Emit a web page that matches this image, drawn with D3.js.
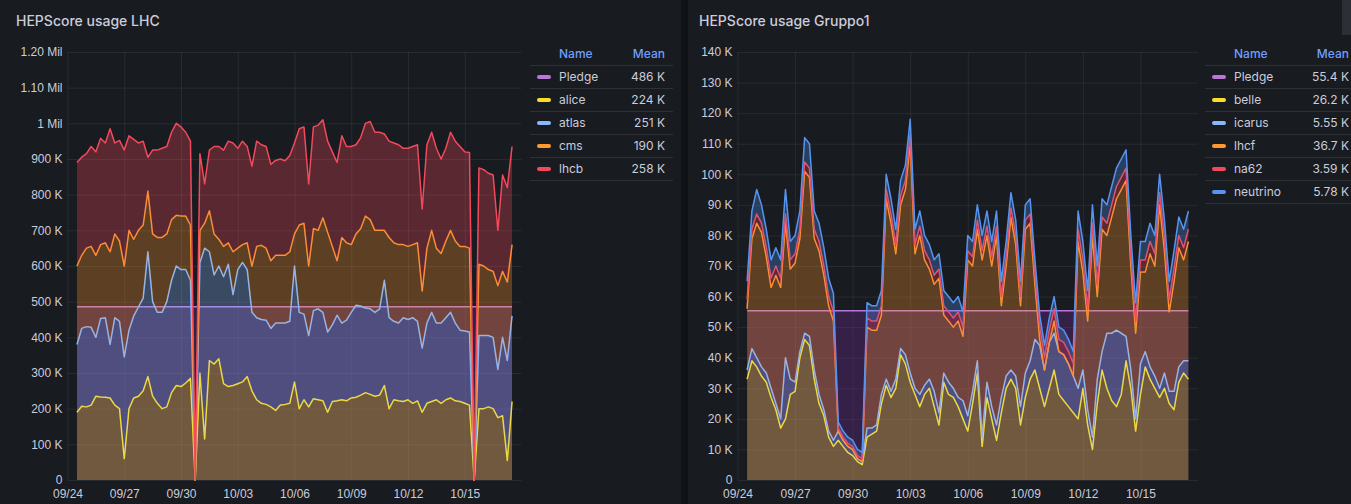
<!DOCTYPE html>
<html>
<head>
  <title>HEPScore usage</title>
  <style>
    body { margin: 0; background: #111217; }
    svg { display: block; font-family: Inter, "Noto Sans", sans-serif; }
    .axis text { fill: #ccccdc; font-size: 12px; }
    .axis line { stroke: rgba(204, 204, 220, 0.09); }
    .axis .domain { display: none; }
  </style>
</head>
<body>
  <script src="https://d3js.org/d3.v7.min.js"></script>
  <script>
// values are in K, one point every 6 hours starting 09/24 12:00
var firstPoint = new Date(2024, 8, 24, 12);
var stepHours = 6;

var xTickLabels = ["09/24", "09/27", "09/30", "10/03", "10/06", "10/09", "10/12", "10/15"];

// ---- LHC panel ----
var lhcYTicks = [0, 100, 200, 300, 400, 500, 600, 700, 800, 900, 1000, 1100, 1200];
var lhcYLabels = ["0", "100 K", "200 K", "300 K", "400 K", "500 K", "600 K", "700 K", "800 K", "900 K", "1 Mil", "1.10 Mil", "1.20 Mil"];
var lhcNames = ["Pledge", "alice", "atlas", "cms", "lhcb"];
var lhcMeans = ["486 K", "224 K", "251 K", "190 K", "258 K"];
var lhcPledge = 486;

var alice = [190,207,205,210,235,233,232,230,210,200,
  60,200,230,235,250,290,235,215,200,205,
  245,265,262,272,285,0,300,115,335,325,
  340,270,262,265,270,275,290,250,225,215,
  212,205,195,210,212,215,275,200,225,205,
  228,225,222,190,220,222,225,222,230,232,
  238,245,240,235,238,265,200,225,222,220,
  225,215,222,190,215,220,225,215,225,230,
  222,220,215,210,0,200,200,205,200,175,
  180,55,220];
var atlas = [190,218,225,218,165,220,223,150,245,245,
  285,220,230,250,260,350,265,255,270,295,
  315,335,328,318,275,0,310,535,305,250,
  260,300,343,255,320,335,300,220,230,235,
  236,220,245,230,228,230,325,270,240,200,
  247,255,248,225,215,240,215,226,240,258,
  250,237,240,235,242,295,255,220,218,235,
  225,240,223,180,225,250,215,225,230,240,
  218,200,203,205,0,205,205,200,200,135,
  220,280,240];
var cms = [220,205,220,227,230,207,210,260,235,225,
  255,280,215,215,205,170,190,210,210,190,
  170,142,150,150,155,0,90,70,115,115,
  75,85,60,120,60,50,75,130,200,208,
  202,190,190,190,190,195,90,245,255,195,
  230,220,265,280,220,153,240,217,190,200,
  217,258,250,230,220,140,225,220,220,205,
  205,205,220,160,210,230,210,195,215,230,
  230,235,237,235,0,200,195,185,185,235,
  185,220,200];
var lhcb = [290,275,265,280,290,298,280,345,255,282,
  325,265,280,245,235,95,235,245,250,245,
  245,258,250,235,235,0,215,110,170,245,
  260,270,285,305,280,290,270,280,295,282,
  285,270,266,270,265,270,255,270,270,230,
  285,295,275,255,265,275,285,270,275,250,
  255,260,275,275,275,270,270,280,280,270,
  275,275,275,230,290,275,280,265,260,275,
  280,280,265,268,0,270,270,270,270,155,
  270,265,275];

// ---- Gruppo1 panel ----
var grpYTicks = [0, 10, 20, 30, 40, 50, 60, 70, 80, 90, 100, 110, 120, 130, 140];
var grpYLabels = ["0", "10 K", "20 K", "30 K", "40 K", "50 K", "60 K", "70 K", "80 K", "90 K", "100 K", "110 K", "120 K", "130 K", "140 K"];
var grpNames = ["Pledge", "belle", "icarus", "lhcf", "na62", "neutrino"];
var grpMeans = ["55.4 K", "26.2 K", "5.55 K", "36.7 K", "3.59 K", "5.78 K"];
var grpPledge = 55.4;

var belle = [33,39,37,34,32,27,23,17,20,28,
  29,40,46,44,33,25,21,14,11,13,
  11,9,8,6,5,14,15,16,25,31,
  27,30,41,38,32,28,24,28,30,24,
  18,32,28,27,24,20,16,25,35,11,
  27,20,13,22,30,33,30,18,27,33,
  36,30,24,30,36,28,26,24,22,20,
  30,18,10,25,36,30,26,24,28,39,
  30,16,28,37,33,30,27,30,25,23,
  32,35,33];
var icarus = [3,4,3,3,3,3,2,3,20,5,
  3,2,2,3,3,3,2,2,2,3,
  2,2,2,1,1,3,2,2,3,2,
  2,3,2,3,3,2,4,3,3,5,
  4,3,4,3,3,6,5,4,4,3,
  5,4,5,5,4,3,4,6,8,6,
  10,14,12,15,12,14,15,14,12,10,
  6,5,4,8,6,18,22,25,20,8,
  6,4,10,5,4,4,3,5,4,6,
  5,4,6];
var lhcf = [20,36,44,44,38,33,42,43,44,36,
  39,37,53,52,43,47,44,41,39,0,
  0,0,0,0,0,33,32,31,26,59,
  55,41,47,54,75,44,52,41,36,35,
  44,19,20,20,25,21,51,41,43,58,
  48,46,62,30,36,50,43,33,47,45,
  18,2,0,0,4,0,0,0,0,48,
  32,29,66,27,40,32,38,43,47,51,
  34,28,30,26,37,36,60,40,26,36,
  39,33,39];
var na62 = [3,3,3,3,3,3,3,3,3,3,
  3,3,3,3,3,3,3,3,3,1,
  1,1,1,1,1,3,3,3,3,3,
  3,3,3,3,3,3,3,3,3,3,
  3,3,3,3,3,3,3,3,3,3,
  3,3,3,3,3,3,3,3,3,3,
  3,4,4,4,4,4,4,4,4,4,
  4,4,4,4,4,4,4,4,4,4,
  4,4,4,4,4,4,4,4,4,4,
  4,4,4];
var neutrino = [6,6,8,6,6,6,6,6,8,6,
  6,6,8,8,6,6,6,6,6,2,
  2,2,2,2,2,5,5,5,5,5,
  5,5,5,5,5,5,5,5,5,5,
  5,5,5,5,5,5,5,5,5,5,
  5,5,5,5,5,5,5,5,5,5,
  5,4,4,4,4,4,4,4,4,6,
  6,6,6,6,6,6,6,6,6,6,
  6,6,6,6,6,6,6,6,6,6,
  6,6,6];

var colors = {
  Pledge: "#B877D9", alice: "#FADE2A", atlas: "#8AB8FF", cms: "#FF9830", lhcb: "#F2495C",
  belle: "#FADE2A", icarus: "#8AB8FF", lhcf: "#FF9830", na62: "#F2495C", neutrino: "#5794F2"
};
var pledgeFill = "#8a2fc0";
var pledgeOpacity = 0.25;
var fillOpacity = 0.3;

var times = d3.range(alice.length).map(function(i) {
  return d3.timeHour.offset(firstPoint, i * stepHours);
});
var parseDay = d3.timeParse("%Y/%m/%d");
var xTickDates = xTickLabels.map(function(l) { return parseDay("2024/" + l); });

// Set up the SVG and the two panels
var svg = d3.select("body").append("svg")
  .attr("width", 1351)
  .attr("height", 504);

svg.append("rect").attr("width", 1351).attr("height", 504).attr("fill", "#111217");
svg.append("rect").attr("x", 0).attr("y", 0).attr("width", 681).attr("height", 504).attr("fill", "#181b1f");
svg.append("rect").attr("x", 688).attr("y", 0).attr("width", 663).attr("height", 504).attr("fill", "#181b1f");

function drawPanel(p) {
  var g = svg.append("g");

  var x = d3.scaleTime()
    .domain([new Date(2024, 8, 24), new Date(2024, 9, 18)])
    .range([p.left, p.right]);
  var y = d3.scaleLinear()
    .domain([0, p.yMax])
    .range([480, 52]);

  // title
  g.append("text")
    .attr("x", p.titleX)
    .attr("y", 26)
    .attr("fill", "#ccccdc")
    .attr("font-size", 14)
    .attr("font-weight", 500)
    .text(p.title);

  // grid + axis labels
  g.append("g")
    .attr("class", "axis")
    .attr("transform", "translate(" + p.left + ",0)")
    .call(d3.axisLeft(y)
      .tickValues(p.yTicks)
      .tickFormat(function(d, i) { return p.yLabels[i]; })
      .tickSize(-(p.right - p.left))
      .tickPadding(5));

  g.append("g")
    .attr("class", "axis")
    .attr("transform", "translate(0,480)")
    .call(d3.axisBottom(x)
      .tickValues(xTickDates)
      .tickFormat(function(d, i) { return xTickLabels[i]; })
      .tickSize(-428)
      .tickPadding(9));

  // pledge: own fill from 0, not stacked
  var pledgeArea = d3.area()
    .x(function(d) { return x(d); })
    .y0(y(0))
    .y1(y(p.pledge));
  g.append("path")
    .datum(times)
    .attr("d", pledgeArea)
    .attr("fill", pledgeFill)
    .attr("fill-opacity", pledgeOpacity);
  g.append("path")
    .datum(times)
    .attr("d", d3.line().x(function(d) { return x(d); }).y(y(p.pledge)))
    .attr("fill", "none")
    .attr("stroke", colors.Pledge)
    .attr("stroke-width", 1.5);

  // stacked series
  var rows = times.map(function(t, i) {
    var r = { time: t };
    p.keys.forEach(function(k, j) { r[k] = p.values[j][i]; });
    return r;
  });
  var layers = d3.stack().keys(p.keys)(rows);

  var area = d3.area()
    .x(function(d) { return x(d.data.time); })
    .y0(function(d) { return y(d[0]); })
    .y1(function(d) { return y(d[1]); });
  var line = d3.line()
    .x(function(d) { return x(d.data.time); })
    .y(function(d) { return y(d[1]); });

  layers.forEach(function(layer) {
    g.append("path")
      .datum(layer)
      .attr("d", area)
      .attr("fill", colors[layer.key])
      .attr("fill-opacity", fillOpacity);
    g.append("path")
      .datum(layer)
      .attr("d", line)
      .attr("fill", "none")
      .attr("stroke", colors[layer.key])
      .attr("stroke-width", 1.5)
      .attr("stroke-linejoin", "round");
  });

  // legend table
  var lg = g.append("g").attr("font-size", 12);
  lg.append("text")
    .attr("x", p.legendX + 29)
    .attr("y", 58)
    .attr("fill", "#6e9fff")
    .attr("font-weight", 500)
    .text("Name");
  lg.append("text")
    .attr("x", p.legendRight)
    .attr("y", 58)
    .attr("text-anchor", "end")
    .attr("fill", "#6e9fff")
    .attr("font-weight", 500)
    .text("Mean");

  d3.range(p.names.length + 1).forEach(function(j) {
    lg.append("line")
      .attr("x1", p.legendX)
      .attr("x2", p.legendLineEnd)
      .attr("y1", 65.5 + 23 * j)
      .attr("y2", 65.5 + 23 * j)
      .attr("stroke", "rgba(204,204,220,0.12)");
  });

  p.names.forEach(function(name, j) {
    var cy = 77 + 23 * j;
    lg.append("rect")
      .attr("x", p.legendX + 7)
      .attr("y", cy - 2)
      .attr("width", 14)
      .attr("height", 4)
      .attr("rx", 2)
      .attr("fill", colors[name]);
    lg.append("text")
      .attr("x", p.legendX + 29)
      .attr("y", cy + 4)
      .attr("fill", "#ccccdc")
      .text(name);
    lg.append("text")
      .attr("x", p.legendRight)
      .attr("y", cy + 4)
      .attr("text-anchor", "end")
      .attr("fill", "#ccccdc")
      .text(p.means[j]);
  });
}

drawPanel({
  title: "HEPScore usage LHC",
  titleX: 16,
  left: 67.5,
  right: 521.5,
  yMax: 1200,
  yTicks: lhcYTicks,
  yLabels: lhcYLabels,
  pledge: lhcPledge,
  keys: ["alice", "atlas", "cms", "lhcb"],
  values: [alice, atlas, cms, lhcb],
  names: lhcNames,
  means: lhcMeans,
  legendX: 530,
  legendRight: 665,
  legendLineEnd: 673
});

drawPanel({
  title: "HEPScore usage Gruppo1",
  titleX: 699,
  left: 737.5,
  right: 1198,
  yMax: 140,
  yTicks: grpYTicks,
  yLabels: grpYLabels,
  pledge: grpPledge,
  keys: ["belle", "icarus", "lhcf", "na62", "neutrino"],
  values: [belle, icarus, lhcf, na62, neutrino],
  names: grpNames,
  means: grpMeans,
  legendX: 1205,
  legendRight: 1349,
  legendLineEnd: 1351
});

// legend scrollbar thumb in the right panel
svg.append("rect")
  .attr("x", 1342)
  .attr("y", 0)
  .attr("width", 9)
  .attr("height", 35)
  .attr("fill", "#2c2f35");
  </script>
</body>
</html>
